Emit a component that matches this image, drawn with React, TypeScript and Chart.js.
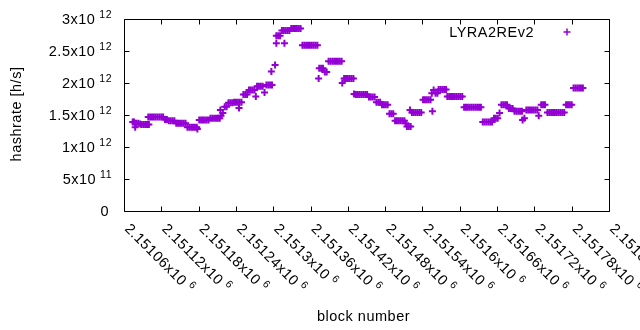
import React, { useEffect, useRef } from 'react';
import { Chart, registerables } from 'chart.js';

Chart.register(...registerables);

// ---------------- data ----------------
const SERIES_NAME = 'LYRA2REv2';
const X_TITLE = 'block number';
const Y_TITLE = 'hashrate [h/s]';
const BLOCK_BASE = 2151000;

// block number offsets (block = BLOCK_BASE + offset)
const blockOffsets = [
  74, 76, 78, 78, 80, 83, 86, 88, 91, 94, 97, 100,
  99, 102, 105, 108, 111, 114, 117, 120, 123,
  126, 129,
  132, 135, 138, 141,
  144, 147, 150, 153, 156, 159,
  162, 165, 168, 171, 174, 177, 178,
  181, 184, 187, 190, 193, 196,
  199, 202, 205, 208, 211, 214,
  215, 216, 219,
  222, 225,
  228, 231, 234,
  237, 240, 243, 245, 246, 249,
  252, 255, 258,
  261, 264, 267, 270, 272,
  274, 277, 280, 283, 286,
  289, 292, 295, 298,
  297, 303,
  305, 308, 311, 305, 318,
  314, 317, 320, 323, 326,
  329, 332, 335, 338, 341, 344,
  347, 350, 353, 356, 359, 362, 365, 368, 371,
  373, 374, 377, 380, 383, 386,
  389, 392, 395, 398, 401, 404, 407, 410,
  411, 414, 417, 420, 423, 426, 429,
  430, 433, 436, 439, 442, 445, 448, 451,
  454, 457, 460, 463,
  466, 469, 472,
  475, 478, 481, 484,
  487, 490, 493,
  496, 499, 502, 505, 508, 511,
  513, 515, 518, 521, 520,
  523, 526, 529, 532, 535, 538,
  541, 544, 547, 550, 553,
  556, 555, 558, 561, 564,
  566, 569, 572, 575, 578,
  580, 583, 586, 589, 592, 595, 598, 601, 604,
  607, 610, 613, 616, 619, 622, 625, 628, 631, 634,
  637, 640, 643, 646, 649, 652,
  655, 658, 661, 664,
  667, 670, 673, 676,
  679, 682, 685,
  688, 691, 694, 697, 700,
  701, 704,
  707, 710, 713, 716, 719, 722, 725, 727,
  731, 734, 737,
  741, 744, 747, 750, 753, 756, 759, 762, 765, 768,
  771, 774, 777, 780,
  783, 786, 789, 792, 795, 798,
];

// hashrate in units of 10^12 h/s
const hashrateT = [
  1.39, 1.39, 1.37, 1.31, 1.37, 1.37, 1.36, 1.35, 1.35, 1.35, 1.35, 1.35,
  1.47, 1.47, 1.47, 1.47, 1.47, 1.47, 1.47, 1.47, 1.47,
  1.43, 1.43,
  1.41, 1.41, 1.41, 1.41,
  1.37, 1.37, 1.37, 1.37, 1.37, 1.37,
  1.31, 1.31, 1.31, 1.31, 1.31, 1.31, 1.28,
  1.42, 1.42, 1.42, 1.42, 1.42, 1.42,
  1.45, 1.45, 1.45, 1.45, 1.45, 1.45,
  1.58, 1.49, 1.53,
  1.63, 1.63,
  1.69, 1.69, 1.69,
  1.70, 1.70, 1.70, 1.61, 1.70, 1.70,
  1.82, 1.82, 1.82,
  1.89, 1.89, 1.89, 1.89, 1.79,
  1.95, 1.95, 1.95, 1.95, 1.85,
  1.97, 1.97, 1.97, 1.97,
  2.18, 2.28,
  2.74, 2.74, 2.74, 2.62, 2.62,
  2.82, 2.82, 2.82, 2.82, 2.82,
  2.85, 2.85, 2.85, 2.85, 2.85, 2.85,
  2.59, 2.59, 2.59, 2.59, 2.59, 2.59, 2.59, 2.59, 2.59,
  2.07, 2.23, 2.23, 2.23, 2.17, 2.17,
  2.34, 2.34, 2.34, 2.34, 2.34, 2.34, 2.34, 2.34,
  2.00, 2.07, 2.07, 2.07, 2.07, 2.07, 2.07,
  1.83, 1.82, 1.82, 1.82, 1.82, 1.82, 1.82, 1.82,
  1.78, 1.78, 1.78, 1.78,
  1.70, 1.70, 1.70,
  1.66, 1.66, 1.66, 1.66,
  1.52, 1.52, 1.52,
  1.41, 1.41, 1.41, 1.41, 1.41, 1.41,
  1.37, 1.32, 1.32, 1.32, 1.58,
  1.54, 1.54, 1.54, 1.54, 1.54, 1.54,
  1.74, 1.74, 1.74, 1.74, 1.74,
  1.56, 1.84, 1.89, 1.84, 1.84,
  1.90, 1.90, 1.90, 1.90, 1.90,
  1.79, 1.79, 1.79, 1.79, 1.79, 1.79, 1.79, 1.79, 1.79,
  1.62, 1.62, 1.62, 1.62, 1.62, 1.62, 1.62, 1.62, 1.62, 1.62,
  1.39, 1.39, 1.39, 1.39, 1.39, 1.39,
  1.45, 1.45, 1.45, 1.53,
  1.66, 1.66, 1.66, 1.66,
  1.60, 1.60, 1.60,
  1.56, 1.56, 1.56, 1.56, 1.56,
  1.42, 1.45,
  1.58, 1.58, 1.58, 1.58, 1.58, 1.58, 1.58, 1.49,
  1.66, 1.66, 1.66,
  1.54, 1.54, 1.54, 1.54, 1.54, 1.54, 1.54, 1.54, 1.54, 1.54,
  1.66, 1.66, 1.66, 1.66,
  1.92, 1.92, 1.92, 1.92, 1.92, 1.92,
];

const xTicks = [
  2151060, 2151120, 2151180, 2151240, 2151300, 2151360, 2151420,
  2151480, 2151540, 2151600, 2151660, 2151720, 2151780, 2151840,
];
const yTicks = [0, 5e11, 1e12, 1.5e12, 2e12, 2.5e12, 3e12];

// ---------------- styling ----------------
const COLOR = '#9400d3';
const FONT = '"Liberation Sans", Arial, sans-serif';
const MAIN_FONT = `14.5px ${FONT}`;
const SUP_FONT = `10.5px ${FONT}`;
const SPACING = '0.5px';

function sci(v: number): [string, string] {
  if (v === 0) return ['0', ''];
  const e = Math.floor(Math.log10(v) + 1e-9);
  const m = parseFloat((v / Math.pow(10, e)).toFixed(6));
  return [`${m}x10`, String(e)];
}
function sciFixed(v: number, e: number): [string, string] {
  const m = parseFloat((v / Math.pow(10, e)).toFixed(6));
  return [`${m}x10`, String(e)];
}

const gnuplotPlugin = {
  id: 'gnuplotFrame',
  beforeDatasetsDraw(chart: any) {
    const { ctx, chartArea: a, scales } = chart;
    ctx.save();
    ctx.strokeStyle = '#000';
    ctx.lineWidth = 1;
    const L = Math.round(a.left) + 0.5;
    const R = Math.round(a.right) + 0.5;
    const T = Math.round(a.top) + 0.5;
    const B = Math.round(a.bottom) + 0.5;
    const tl = 5;
    ctx.beginPath();
    ctx.rect(L, T, R - L, B - T);
    xTicks.forEach((v) => {
      const px = Math.round(scales.x.getPixelForValue(v)) + 0.5;
      ctx.moveTo(px, B); ctx.lineTo(px, B - tl);
      ctx.moveTo(px, T); ctx.lineTo(px, T + tl);
    });
    yTicks.forEach((v) => {
      const py = Math.round(scales.y.getPixelForValue(v)) + 0.5;
      ctx.moveTo(L, py); ctx.lineTo(L + tl, py);
      ctx.moveTo(R, py); ctx.lineTo(R - tl, py);
    });
    ctx.stroke();
    ctx.restore();
  },
  afterDraw(chart: any) {
    const { ctx, chartArea: a, scales } = chart;
    ctx.save();
    ctx.fillStyle = '#000';
    (ctx as any).letterSpacing = SPACING;
    ctx.textBaseline = 'alphabetic';

    // y tick labels
    const yRight = a.left - 12;
    yTicks.forEach((v) => {
      const py = scales.y.getPixelForValue(v);
      const [m, e] = sci(v);
      if (!e) {
        ctx.font = MAIN_FONT;
        ctx.textAlign = 'right';
        ctx.fillText(m, yRight - 3, py + 5);
        return;
      }
      ctx.font = SUP_FONT;
      const w2 = ctx.measureText(e).width;
      ctx.font = MAIN_FONT;
      const w1 = ctx.measureText(m).width;
      ctx.textAlign = 'left';
      const xs = yRight - w2;
      ctx.fillText(m, xs - 4 - w1, py + 5);
      ctx.font = SUP_FONT;
      ctx.fillText(e, xs, py - 1);
    });

    // x tick labels (rotated 45deg)
    xTicks.forEach((v) => {
      const px = scales.x.getPixelForValue(v);
      const [m, e] = sciFixed(v, 6);
      ctx.save();
      ctx.translate(px, a.bottom + 18.5);
      ctx.rotate(Math.PI / 4);
      ctx.textAlign = 'left';
      ctx.font = MAIN_FONT;
      const w1 = ctx.measureText(m).width;
      ctx.fillText(m, 0, 0);
      ctx.font = SUP_FONT;
      ctx.fillText(e, w1 + 4, -6);
      ctx.restore();
    });

    // axis titles
    ctx.font = MAIN_FONT;
    ctx.textAlign = 'center';
    ctx.fillText(X_TITLE, 363.5, 321);
    ctx.save();
    ctx.translate(21, (a.top + a.bottom) / 2 - 1);
    ctx.rotate(-Math.PI / 2);
    ctx.fillText(Y_TITLE, 0, 0);
    ctx.restore();

    // key
    ctx.textAlign = 'right';
    ctx.fillText(SERIES_NAME, 534, 37);
    ctx.strokeStyle = COLOR;
    ctx.lineWidth = 1.5;
    ctx.beginPath();
    ctx.moveTo(563.5, 32); ctx.lineTo(570.5, 32);
    ctx.moveTo(567, 28.5); ctx.lineTo(567, 35.5);
    ctx.stroke();
    ctx.restore();
  },
};

export default function App() {
  const ref = useRef<HTMLCanvasElement | null>(null);
  useEffect(() => {
    if (!ref.current) return;
    const points = blockOffsets.map((b, i) => ({ x: BLOCK_BASE + b, y: hashrateT[i] * 1e12 }));
    const chart = new Chart(ref.current, {
      type: 'scatter',
      data: {
        datasets: [
          {
            label: SERIES_NAME,
            data: points,
            pointStyle: 'cross',
            pointRadius: 3.5,
            pointBorderWidth: 2,
            borderColor: COLOR,
            backgroundColor: COLOR,
            pointHoverRadius: 3.5,
          },
        ],
      },
      options: {
        animation: false,
        responsive: false,
        devicePixelRatio: 1,
        layout: { padding: { left: 124, right: 31, top: 19, bottom: 119 } },
        scales: {
          x: { type: 'linear', min: xTicks[0], max: xTicks[xTicks.length - 1], display: false },
          y: { type: 'linear', min: yTicks[0], max: yTicks[yTicks.length - 1], display: false },
        },
        plugins: { legend: { display: false }, tooltip: { enabled: false } },
      },
      plugins: [gnuplotPlugin],
    });
    return () => chart.destroy();
  }, []);
  return (
    <div style={{ position: 'absolute', left: 0, top: 0, width: 640, height: 330, background: '#fff' }}>
      <canvas ref={ref} width={640} height={330} style={{ display: 'block' }} />
    </div>
  );
}
